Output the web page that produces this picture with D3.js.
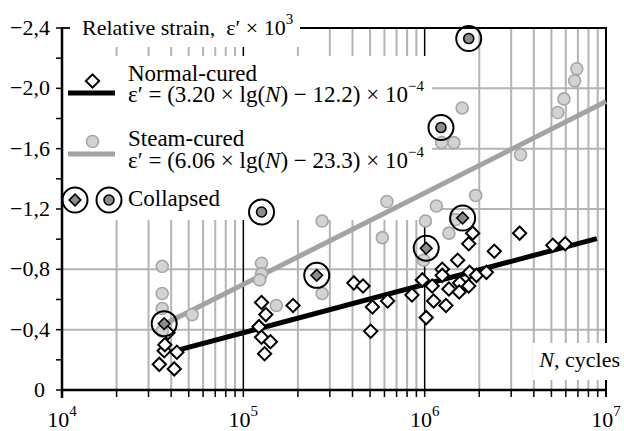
<!DOCTYPE html>
<html>
<head>
<meta charset="utf-8">
<script src="https://cdn.jsdelivr.net/npm/d3@7"></script>
<style>
  body { margin: 0; background: #fff; }
  svg { display: block; font-family: "Liberation Serif", "Times New Roman", serif; }
</style>
</head>
<body>
<svg id="chart" width="624" height="431"></svg>
<script>
// Dados: [N (ciclos), deformação relativa ×10^3]
var normalCured = [
  [3.44e4,-0.17],[4.16e4,-0.14],[4.30e4,-0.25],[3.66e4,-0.26],[3.69e4,-0.30],[3.84e4,-0.38],
  [1.26e5,-0.58],[1.33e5,-0.50],[1.22e5,-0.42],[1.26e5,-0.35],[1.41e5,-0.32],[1.31e5,-0.24],[1.88e5,-0.56],
  [4.07e5,-0.71],[4.57e5,-0.69],[5.15e5,-0.55],[5.04e5,-0.39],[6.25e5,-0.59],[8.51e5,-0.63],
  [9.71e5,-0.73],[1.02e6,-0.48],[1.10e6,-0.69],[1.12e6,-0.59],[1.25e6,-0.80],[1.25e6,-0.76],
  [1.36e6,-0.67],[1.31e6,-0.56],[1.52e6,-0.86],[1.56e6,-0.71],[1.55e6,-0.65],[1.75e6,-0.97],
  [1.84e6,-1.04],[1.77e6,-0.78],[1.75e6,-0.69],[1.93e6,-0.76],[2.19e6,-0.78],[2.42e6,-0.92],
  [3.34e6,-1.04],[5.09e6,-0.96],[5.96e6,-0.97]
];
var steamCured = [
  [3.57e4,-0.82],[3.57e4,-0.64],[3.57e4,-0.54],[3.57e4,-0.39],[5.22e4,-0.50],
  [1.26e5,-0.84],[1.26e5,-0.77],[1.23e5,-0.73],[1.52e5,-0.56],
  [2.72e5,-1.12],[2.72e5,-0.64],
  [6.19e5,-1.25],[5.84e5,-1.01],
  [1.16e6,-1.22],[1.01e6,-1.12],[1.36e6,-1.04],[9.87e5,-0.86],[1.48e6,-1.13],[1.91e6,-1.29],
  [1.61e6,-1.87],[1.24e6,-1.64],[1.45e6,-1.64],
  [3.38e6,-1.56],[5.42e6,-1.84],[5.86e6,-1.93],[6.71e6,-2.05],[6.90e6,-2.13]
];
var collapsedNormal = [[3.66e4,-0.44],[2.54e5,-0.76],[1.02e6,-0.94],[1.62e6,-1.14]];
var collapsedSteam = [[1.26e5,-1.18],[1.75e6,-2.33],[1.23e6,-1.74]];

// Retas de regressão: eps' = (a*lg(N) + b) x 10^-4, desenhadas entre nMin e nMax
var normalFit = { a: 3.20, b: -12.2, nMin: 4.0e4, nMax: 8.9e6 };
var steamFit = { a: 6.06, b: -23.3, nMin: 3.8e4, nMax: 1e7 };

var yTicks = [0, -0.4, -0.8, -1.2, -1.6, -2.0, -2.4];
var yMinor = [-0.2, -0.6, -1.0, -1.4, -1.8, -2.2];
var yTickLabels = ["0", "\u22120,4", "\u22120,8", "\u22121,2", "\u22121,6", "\u22122,0", "\u22122,4"];
var xDecades = [1e4, 1e5, 1e6, 1e7];
var xDecadeExp = ["4", "5", "6", "7"];

var svg = d3.select("#chart");

//Escalas.
var x = d3.scaleLog().domain([1e4, 1e7]).range([62, 606]);
var y = d3.scaleLinear().domain([0, -2.4]).range([390, 28]);

var gridColor = "#b4b4b4";

//Linhas de grade verticais (2..9 x 10^k).
var minorX = [];
for (var k = 0; k < 3; k++) {
  for (var m = 2; m <= 9; m++) minorX.push(m * xDecades[k]);
}
svg.append("g").selectAll("line")
  .data(minorX).enter().append("line")
  .attr("x1", d => x(d)).attr("x2", d => x(d))
  .attr("y1", y(-2.4)).attr("y2", y(0))
  .attr("stroke", gridColor).attr("stroke-width", 2);

//Linhas de grade horizontais.
svg.append("g").selectAll("line")
  .data(yTicks.filter(d => d != 0 && d != -2.4)).enter().append("line")
  .attr("x1", x(1e4)).attr("x2", x(1e7))
  .attr("y1", d => y(d)).attr("y2", d => y(d))
  .attr("stroke", gridColor).attr("stroke-width", 2);

//Décadas 10^5 e 10^6 em preto.
svg.append("g").selectAll("line")
  .data([1e5, 1e6]).enter().append("line")
  .attr("x1", d => x(d)).attr("x2", d => x(d))
  .attr("y1", y(-2.4)).attr("y2", y(0))
  .attr("stroke", "#000").attr("stroke-width", 1.5);

//Caixas brancas atrás dos textos (título e legenda).
svg.append("rect").attr("x", 70).attr("y", 8).attr("width", 230).attr("height", 39).attr("fill", "#fff");
svg.append("rect").attr("x", 63).attr("y", 56).attr("width", 369).attr("height", 164).attr("fill", "#fff");

//Eixos / moldura.
svg.append("line").attr("x1", x(1e4)).attr("x2", 70).attr("y1", y(-2.4)).attr("y2", y(-2.4))
  .attr("stroke", "#000").attr("stroke-width", 1.8);
svg.append("line").attr("x1", 300).attr("x2", x(1e7) + 1).attr("y1", y(-2.4)).attr("y2", y(-2.4))
  .attr("stroke", "#000").attr("stroke-width", 1.8);
svg.append("line").attr("x1", x(1e7)).attr("x2", x(1e7)).attr("y1", y(-2.4)).attr("y2", y(0) + 7)
  .attr("stroke", "#000").attr("stroke-width", 2);
svg.append("line").attr("x1", x(1e4)).attr("x2", x(1e4)).attr("y1", y(-2.4) - 1).attr("y2", y(0) + 8)
  .attr("stroke", "#000").attr("stroke-width", 2.5);
svg.append("line").attr("x1", x(1e4) - 1).attr("x2", x(1e7) + 1).attr("y1", y(0)).attr("y2", y(0))
  .attr("stroke", "#000").attr("stroke-width", 2.5);

//Marcas do eixo y.
svg.append("g").selectAll("line")
  .data(yTicks.concat(yMinor)).enter().append("line")
  .attr("x1", x(1e4) - 6).attr("x2", x(1e4))
  .attr("y1", d => y(d)).attr("y2", d => y(d))
  .attr("stroke", "#000").attr("stroke-width", 1.5);

svg.append("g").selectAll("text")
  .data(yTicks).enter().append("text")
  .attr("x", d => d == 0 ? 45 : 50).attr("y", d => y(d) + 7)
  .attr("text-anchor", "end")
  .style("font-size", "22px")
  .text((d, i) => yTickLabels[i]);

//Marcas do eixo x.
svg.append("g").selectAll("line")
  .data(minorX.concat(xDecades.slice(0, 3))).enter().append("line")
  .attr("x1", d => x(d)).attr("x2", d => x(d))
  .attr("y1", y(0)).attr("y2", y(0) + 7)
  .attr("stroke", "#000").attr("stroke-width", 1.5);

var xl = svg.append("g").selectAll("text")
  .data(xDecades).enter().append("text")
  .attr("x", d => x(d)).attr("y", 427)
  .attr("text-anchor", "middle")
  .style("font-size", "22px");
xl.append("tspan").text("10");
xl.append("tspan").attr("dy", -11).style("font-size", "15px").text((d, i) => xDecadeExp[i]);

//Retas de regressão.
function fitLine(fit) {
  var ns = [fit.nMin, fit.nMax];
  return ns.map(n => [n, -(fit.a * Math.log10(n) + fit.b) / 10]);
}
var line = d3.line().x(d => x(d[0])).y(d => y(d[1]));
svg.append("path").attr("d", line(fitLine(steamFit)))
  .attr("stroke", "#a3a3a3").attr("stroke-width", 5).attr("fill", "none");
svg.append("path").attr("d", line(fitLine(normalFit)))
  .attr("stroke", "#000").attr("stroke-width", 5).attr("fill", "none");

//Símbolos.
var diamond = d3.symbol().type(d3.symbolSquare).size(88);
var diamondSmall = d3.symbol().type(d3.symbolSquare).size(68);

svg.append("g").selectAll("path")
  .data(normalCured).enter().append("path")
  .attr("d", diamond)
  .attr("transform", d => "translate(" + x(d[0]) + "," + y(d[1]) + ") rotate(45)")
  .attr("fill", "#fff").attr("stroke", "#000").attr("stroke-width", 2);

svg.append("g").selectAll("circle")
  .data(steamCured).enter().append("circle")
  .attr("cx", d => x(d[0])).attr("cy", d => y(d[1])).attr("r", 6)
  .attr("fill", "#d3d3d3").attr("stroke", "#a6a6a6").attr("stroke-width", 1.6);

var cn = svg.append("g").selectAll("g")
  .data(collapsedNormal).enter().append("g")
  .attr("transform", d => "translate(" + x(d[0]) + "," + y(d[1]) + ")");
cn.append("path").attr("d", diamondSmall).attr("transform", "rotate(45)")
  .attr("fill", "#8c8c8c").attr("stroke", "#000").attr("stroke-width", 1.6);
cn.append("circle").attr("r", 12.5).attr("fill", "none").attr("stroke", "#000").attr("stroke-width", 2);

var cs = svg.append("g").selectAll("g")
  .data(collapsedSteam).enter().append("g")
  .attr("transform", d => "translate(" + x(d[0]) + "," + y(d[1]) + ")");
cs.append("circle").attr("r", 5).attr("fill", "#8c8c8c").attr("stroke", "#000").attr("stroke-width", 1.6);
cs.append("circle").attr("r", 12.5).attr("fill", "none").attr("stroke", "#000").attr("stroke-width", 2);

//Título do eixo y.
var title = svg.append("text").attr("x", 82).attr("y", 35)
  .style("font-size", "22px").style("white-space", "pre");
title.append("tspan").text("Relative strain,  \u03b5\u2032 \u00d7 10");
title.append("tspan").attr("dy", -11).style("font-size", "15px").text("3");

//Rótulo do eixo x.
svg.append("rect").attr("x", 533).attr("y", 343).attr("width", 91).attr("height", 37).attr("fill", "#fff");
var nl = svg.append("text").attr("x", 620).attr("y", 367).attr("text-anchor", "end").style("font-size", "22px");
nl.append("tspan").style("font-style", "italic").text("N");
nl.append("tspan").text(", cycles");

//Legenda.
var lg = svg.append("g");
lg.append("line").attr("x1", 68).attr("x2", 115).attr("y1", 93).attr("y2", 93)
  .attr("stroke", "#000").attr("stroke-width", 5);
lg.append("path").attr("d", diamond).attr("transform", "translate(92.5,81) rotate(45)")
  .attr("fill", "#fff").attr("stroke", "#000").attr("stroke-width", 2);
lg.append("line").attr("x1", 68).attr("x2", 115).attr("y1", 154).attr("y2", 154)
  .attr("stroke", "#a3a3a3").attr("stroke-width", 5);
lg.append("circle").attr("cx", 92.5).attr("cy", 141.5).attr("r", 6)
  .attr("fill", "#d3d3d3").attr("stroke", "#a6a6a6").attr("stroke-width", 1.6);

lg.append("path").attr("d", diamondSmall).attr("transform", "translate(75,200) rotate(45)")
  .attr("fill", "#8c8c8c").attr("stroke", "#000").attr("stroke-width", 1.6);
lg.append("circle").attr("cx", 75).attr("cy", 200).attr("r", 12.5)
  .attr("fill", "none").attr("stroke", "#000").attr("stroke-width", 2);
lg.append("circle").attr("cx", 109).attr("cy", 200).attr("r", 5)
  .attr("fill", "#8c8c8c").attr("stroke", "#000").attr("stroke-width", 1.6);
lg.append("circle").attr("cx", 109).attr("cy", 200).attr("r", 12.5)
  .attr("fill", "none").attr("stroke", "#000").attr("stroke-width", 2);

function formula(yPos, a, b) {
  var t = lg.append("text").attr("x", 128).attr("y", yPos).style("font-size", "23px");
  t.append("tspan").text("\u03b5\u2032 = (" + a + " \u00d7 lg(");
  t.append("tspan").style("font-style", "italic").text("N");
  t.append("tspan").text(") \u2212 " + b + ") \u00d7 10");
  t.append("tspan").attr("dy", -11).style("font-size", "15px").text("\u22124");
}
lg.append("text").attr("x", 128).attr("y", 81).style("font-size", "23px").text("Normal-cured");
formula(102, normalFit.a.toFixed(2), (-normalFit.b).toFixed(1));
lg.append("text").attr("x", 128).attr("y", 146).style("font-size", "23px").text("Steam-cured");
formula(168, steamFit.a.toFixed(2), (-steamFit.b).toFixed(1));
lg.append("text").attr("x", 128).attr("y", 206).style("font-size", "23px").text("Collapsed");
</script>
</body>
</html>
